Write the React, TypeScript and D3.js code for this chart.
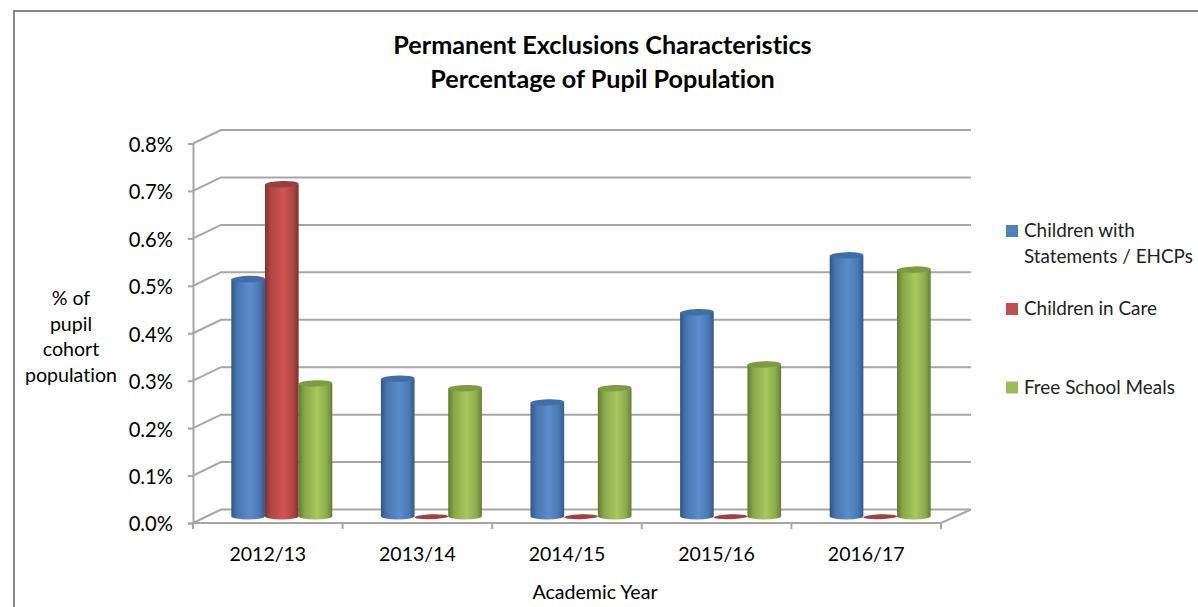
import React, { useRef, useEffect } from 'react';
import * as d3 from 'd3';

const years = ['2012/13', '2013/14', '2014/15', '2015/16', '2016/17'];
const statements = [0.5, 0.29, 0.24, 0.43, 0.55];
const inCare = [0.7, 0, 0, 0, 0];
const freeMeals = [0.28, 0.27, 0.27, 0.32, 0.52];
const seriesNames = ['Children with Statements / EHCPs', 'Children in Care', 'Free School Meals'];
const seriesValues = [statements, inCare, freeMeals];
const yTicks = [0, 0.1, 0.2, 0.3, 0.4, 0.5, 0.6, 0.7, 0.8];
const titleLines = ['Permanent Exclusions Characteristics', 'Percentage of Pupil Population'];
const yLabelLines = ['% of', 'pupil', 'cohort', 'population'];

const FONT = 'Lato, "Open Sans", sans-serif';
const GREY = '#a6a6a6';

// [edge dark, centre light, edge dark, lid colour, flat disc colour]
const shades = [
  ['#2f5688', '#5b8ccc', '#315a8e', '#3f6fa8', '#3f6fa8'],
  ['#803230', '#cf5551', '#7e302e', '#9c3e3b', '#a33f3c'],
  ['#5f7b2e', '#a6c85e', '#627f31', '#7d9c42', '#7d9c42'],
];
const swatches = ['#4f81bd', '#c0504d', '#9bbb59'];

function App() {
  const ref = useRef<SVGSVGElement>(null);

  useEffect(() => {
    const svg = d3.select(ref.current);
    svg.selectAll('*').remove();
    svg.style('font-family', FONT).style('font-variant-ligatures', 'none');

    const depthX = 28;
    const depthY = 13.5;

    const x = d3.scaleBand().domain(years).range([193, 941]);
    const y = d3.scaleLinear().domain([0, 0.8]).range([523, 143.5]);
    const bar = d3.scaleBand().domain(seriesNames).range([0, 101]);

    // gradients for the cylinders
    const defs = svg.append('defs');
    shades.forEach((s, i) => {
      const g = defs.append('linearGradient').attr('id', `cyl${i}`);
      g.append('stop').attr('offset', '0%').attr('stop-color', s[0]);
      g.append('stop').attr('offset', '18%').attr('stop-color', d3.interpolateRgb(s[0], s[1])(0.6));
      g.append('stop').attr('offset', '55%').attr('stop-color', s[1]);
      g.append('stop').attr('offset', '84%').attr('stop-color', d3.interpolateRgb(s[2], s[1])(0.6));
      g.append('stop').attr('offset', '100%').attr('stop-color', s[2]);
    });

    // outer frame
    svg.append('path').attr('d', 'M14,607V11H1198').attr('fill', 'none').attr('stroke', '#868686').attr('stroke-width', 2);

    // title
    svg.append('g').selectAll('text').data(titleLines).enter().append('text')
      .attr('x', 602.5)
      .attr('y', (d, i) => 54 + i * 33.5)
      .attr('text-anchor', 'middle')
      .attr('font-size', 25.2)
      .attr('font-weight', 700)
      .attr('fill', '#000')
      .text(d => d);

    // back wall gridlines and the slanted side wall
    const grid = svg.append('g').attr('fill', 'none').attr('stroke', GREY).attr('stroke-width', 2);
    grid.selectAll('path').data(yTicks).enter().append('path')
      .attr('d', d => `M193,${y(d)}l${depthX},${-depthY}H${941 + depthX + 2}`);

    // floor
    grid.append('path').attr('d', `M193,${y(0)}H941l${depthX + 2},${-depthY}`);

    // y axis
    const yAxis = svg.append('g')
      .attr('transform', 'translate(193,0)')
      .call(d3.axisLeft(y).tickValues(yTicks).tickFormat(d => `${(+d).toFixed(1)}%`).tickSize(5).tickPadding(15));
    yAxis.selectAll('path, line').attr('stroke', GREY).attr('stroke-width', 2);
    yAxis.selectAll('text').attr('font-size', 20.2).attr('font-family', FONT).attr('fill', '#000').attr('y', 1.5);

    // x axis
    const xAxis = svg.append('g')
      .attr('transform', `translate(0,${y(0)})`)
      .call(d3.axisBottom(x).tickSize(0).tickPadding(24));
    xAxis.select('path').remove();
    xAxis.selectAll('text').attr('font-size', 19.5).attr('font-family', FONT).attr('fill', '#000');

    svg.append('g').selectAll('line').data([...years, 'end']).enter().append('line')
      .attr('x1', d => (d === 'end' ? 941 : x(d)!))
      .attr('x2', d => (d === 'end' ? 941 : x(d)!))
      .attr('y1', y(0))
      .attr('y2', y(0) + 6)
      .attr('stroke', GREY)
      .attr('stroke-width', 2);

    // cylinders
    const rx = bar.bandwidth() / 2;
    const ry = 3.2;
    const baseShift = -depthY / 2;
    seriesNames.forEach((name, s) => {
      const g = svg.append('g');
      seriesValues[s].forEach((v, i) => {
        const cx = x(years[i])! + x.bandwidth() / 2 + depthX / 2 - 50.5 + bar(name)! + rx;
        const yBase = y(0) + baseShift;
        const yTop = y(v) + baseShift;
        if (v === 0) {
          g.append('ellipse').attr('cx', cx).attr('cy', yBase + 0.5).attr('rx', rx).attr('ry', 2.4)
            .attr('transform', `rotate(-2,${cx},${yBase + 0.5})`)
            .attr('fill', shades[s][4]);
          return;
        }
        g.append('path')
          .attr('d', `M${cx - rx},${yTop}V${yBase}A${rx},${ry} 0 0 0 ${cx + rx},${yBase}V${yTop}Z`)
          .attr('fill', `url(#cyl${s})`);
        g.append('ellipse').attr('cx', cx).attr('cy', yTop).attr('rx', rx).attr('ry', ry)
          .attr('transform', `rotate(-2,${cx},${yTop})`)
          .attr('fill', shades[s][3]);
      });
    });

    // y axis title
    svg.append('g').selectAll('text').data(yLabelLines).enter().append('text')
      .attr('x', 71)
      .attr('y', (d, i) => 305 + i * 25.5)
      .attr('text-anchor', 'middle')
      .attr('font-size', 19.6)
      .attr('fill', '#000')
      .text(d => d);

    // x axis title
    svg.append('text')
      .attr('x', 595)
      .attr('y', 599)
      .attr('text-anchor', 'middle')
      .attr('font-size', 19.6)
      .attr('fill', '#000')
      .text('Academic Year');

    // legend
    const legendRows = [
      { name: seriesNames[0], lines: ['Children with', 'Statements / EHCPs'], top: 225 },
      { name: seriesNames[1], lines: ['Children in Care'], top: 303 },
      { name: seriesNames[2], lines: ['Free School Meals'], top: 381.5 },
    ];
    const legend = svg.append('g').selectAll('g').data(legendRows).enter().append('g')
      .attr('transform', d => `translate(1006,${d.top})`);
    legend.append('rect')
      .attr('width', 12)
      .attr('height', 12)
      .attr('fill', (d, i) => swatches[i]);
    legend.selectAll('text').data(d => d.lines).enter().append('text')
      .attr('x', 18)
      .attr('y', (d, i) => 12 + i * 25.5)
      .attr('font-size', 18.9)
      .attr('fill', '#222')
      .text(d => d);
  }, []);

  return <svg ref={ref} width={1198} height={607} style={{ position: 'absolute', left: 0, top: 0 }}></svg>;
}

export default App;
